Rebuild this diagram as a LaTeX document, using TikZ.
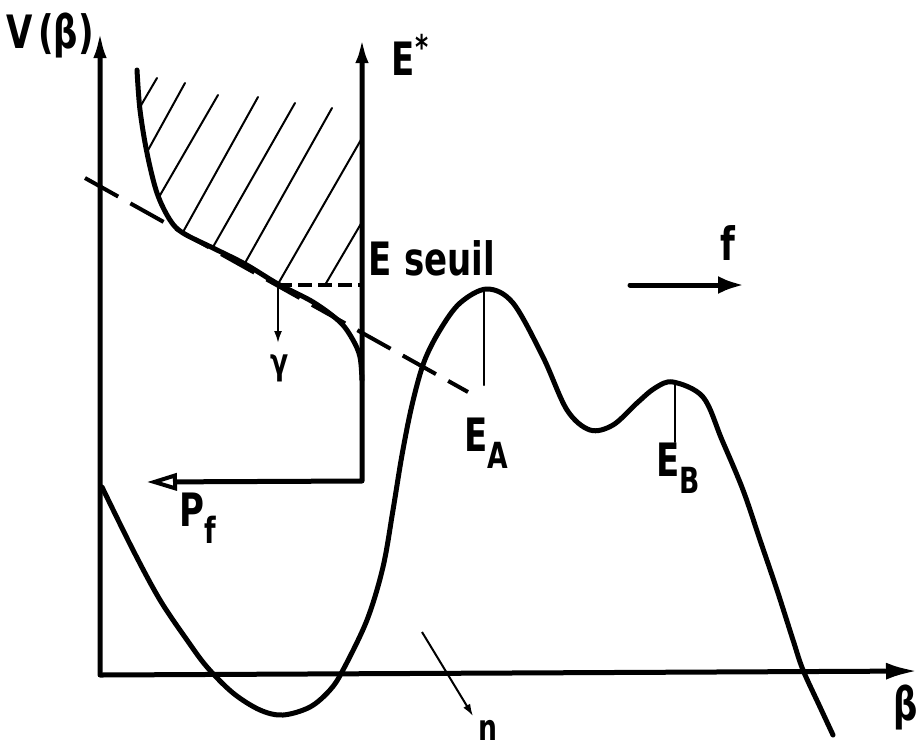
\documentclass[tikz,border=0pt]{standalone}
\usepackage{fontspec}
\setmainfont{DejaVu Sans}
\usetikzlibrary{arrows.meta}
\newcommand\lbl[1]{\scalebox{0.74}[1]{#1}}
\newcommand\subl[1]{\raisebox{-0.38em}{\fontsize{36}{40}\selectfont #1}}
\tikzset{
  lab/.style={inner sep=0pt, font=\fontsize{46}{50}\selectfont\bfseries},
  thick line/.style={line width=5pt, line cap=round, line join=round},
  thin line/.style={line width=2pt, line cap=round},
  dash line/.style={line width=4pt, dash pattern=on 38pt off 14pt},
  short dash/.style={line width=3.5pt, dash pattern=on 14pt off 6pt},
}
\begin{document}
\begin{tikzpicture}[x=1pt,y=-1pt]
\useasboundingbox (0,0) rectangle (920,748);
% named points
\coordinate (vtop) at (100,30);
\coordinate (orig) at (100,675);
\coordinate (btip) at (918,671);
\coordinate (etop) at (362,37);
\coordinate (ecorner) at (362,481);
\coordinate (pftip) at (147,482);
\coordinate (gpt) at (278,285);
\coordinate (gtip) at (278,343);
\coordinate (seuilend) at (362,285);
\coordinate (peakA) at (484,290);
\coordinate (peakAb) at (484,385);
\coordinate (peakB) at (675,384);
\coordinate (peakBb) at (675,442);
\coordinate (fstart) at (630,285);
\coordinate (fend) at (744,285);
\coordinate (nstart) at (422,632);
\coordinate (nend) at (473,716);
\coordinate (tanA) at (85,178);
\coordinate (tanB) at (468,392);

% axes
\draw[thick line, {Latex[length=28pt,width=13pt]}-{Latex[length=32pt,width=17pt]}] (vtop) -- (orig) -- (btip);
% E* axis and P_f arrow
\draw[thick line, {Triangle[open,length=30pt,width=17pt,line width=4pt]}-{Latex[length=26pt,width=13pt]}] (pftip) -- (ecorner) -- (etop);

% hatch lines
\draw[thin line]
  (140,107) -- (157,78)
  (147,152) -- (185,83)
  (159,197) -- (218,95)
  (183,232) -- (258,97)
  (213,247) -- (295,103)
  (245,263) -- (332,108)
  (278,284) -- (362,138)
  (325,285) -- (362,222);

% hatched boundary curve
\draw[thick line] plot[smooth, tension=0.55] coordinates {
  (137,70) (140,110) (147,153) (157,193) (170,220) (183,233) (213,248)
  (245,264) (278,284) (313,302) (340,322) (353,340) (360,357) (362,380)};

% tangent dashed line
\draw[dash line] (tanA) -- (tanB);
% E seuil dashed line
\draw[short dash] (gpt) -- (seuilend);
% gamma arrow
\draw[line width=2pt, -{Latex[length=12pt,width=8pt]}] (gpt) -- (gtip);

% potential curve
\draw[thick line] plot[smooth, tension=0.55] coordinates {
  (102,487) (133,550) (160,600) (187,640) (207,667) (233,693) (260,710)
  (283,715) (310,707) (330,690) (343,670) (367,620) (383,567) (393,510)
  (402,455) (412,405) (424,362) (440,330) (460,303) (487,289) (513,303) (543,357)
  (567,410) (590,430) (613,425) (637,403) (655,388) (673,382) (703,397)
  (722,440) (743,490) (760,540) (777,590) (793,640) (803,670) (820,707) (833,735)};

% barrier heights
\draw[thin line] (peakA) -- (peakAb);
\draw[thin line] (peakB) -- (peakBb);

% f arrow
\draw[thick line, -{Latex[length=26pt,width=18pt]}] (fstart) -- (fend);
% n pointer
\draw[line width=2pt, -{Latex[length=12pt,width=8pt]}] (nstart) -- (nend);

% labels
\node[lab] (lV) at (50,35) {\lbl{V\,(β)}};
\node[lab] (lE) at (410,55) {\lbl{E\raisebox{0.35em}{\fontsize{34}{36}\selectfont *}}};
\node[lab] (lS) at (432,258) {\lbl{E seuil}};
\node[lab] (lEA) at (486,443) {\lbl{E\subl{A}}};
\node[lab] (lEB) at (678,468) {\lbl{E\subl{B}}};
\node[lab] (lPf) at (198,518) {\lbl{P\subl{f}}};
\node[lab] (lf) at (728,243) {\lbl{f}};
\node[lab, font=\fontsize{36}{40}\selectfont\bfseries] (lg) at (280,368) {\lbl{γ}};
\node[lab, font=\fontsize{36}{40}\selectfont\bfseries] (ln) at (488,730) {\lbl{n}};
\node[lab] (lb) at (906,707) {\lbl{β}};
\end{tikzpicture}
\end{document}
